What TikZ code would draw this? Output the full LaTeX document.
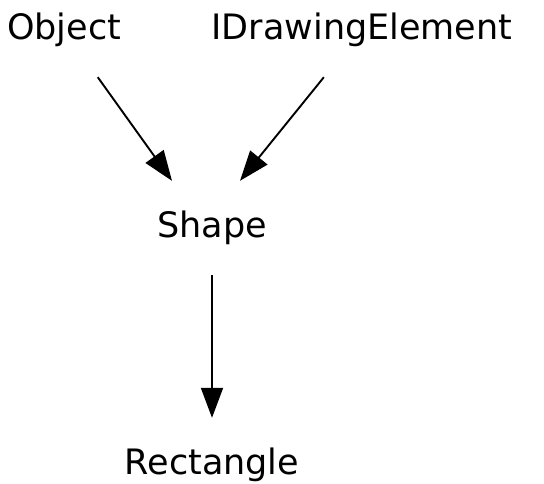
\documentclass[tikz,border=0pt]{standalone}
\usepackage{fontspec}
\setmainfont{DejaVu Sans}
\usepackage{tikz}
\usetikzlibrary{arrows.meta}

\begin{document}
\begin{tikzpicture}[x=1pt,y=-1pt,
  cls/.style={inner sep=0pt,minimum height=94pt,text height=26pt,text depth=7pt,
              font=\fontsize{35}{42}\selectfont},
  inherit/.style={line width=1.9pt,-{Triangle[length=30pt,width=22pt]}}
]
\useasboundingbox (0,0) rectangle (544,483);
\node[cls] (obj)  at (64,30)  {Object};
\node[cls] (ide)  at (362,30) {IDrawingElement};
\node[cls] (shp)  at (212,228) {Shape};
\node[cls] (rect) at (212,465) {Rectangle};
\draw[inherit] (obj) -- ([xshift=-40pt]shp.north);
\draw[inherit] (ide) -- ([xshift=28pt]shp.north);
\draw[inherit] (shp) -- (rect);
\end{tikzpicture}
\end{document}
